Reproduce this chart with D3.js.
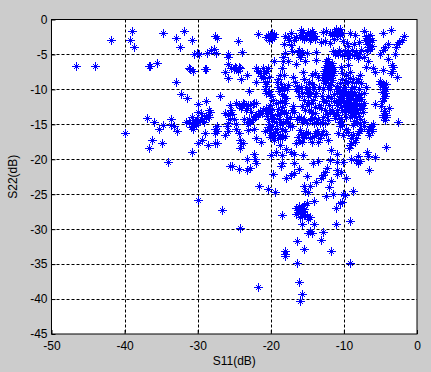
<!DOCTYPE html>
<html>
<head>
<meta charset="utf-8">
<script src="https://cdnjs.cloudflare.com/ajax/libs/d3/7.8.5/d3.min.js"></script>
<style>
html, body { margin: 0; padding: 0; background: #cccccc; overflow: hidden; }
text { font-family: "Liberation Sans", Arial, sans-serif; fill: #000; }
</style>
</head>
<body>
<div id="container"><svg></svg></div>
<script>
let width = 431;
let height = 372;

let xTicks = [-50, -40, -30, -20, -10, 0];
let yTicks = [0, -5, -10, -15, -20, -25, -30, -35, -40, -45];
let xLabel = 'S11(dB)';
let yLabel = 'S22(dB)';

// [S11, S22], left side first
let leftPoints = [
    [-46.6,-6.6],[-44.1,-6.6],[-41.9,-2.9],[-39,-1.6],[-39.3,-3],[-38.7,-4],[-36.7,-6.6],[-36.5,-6.7],[-35.6,-6.2],
    [-34.8,-1.9],[-33,-2.7],[-32.4,-3.9],[-31.9,-1.7],[-30.8,-3],[-30.5,-4.9],[-30.1,-4.8],[-29.8,-4.9],[-31.2,-6.9],[-31,-7.1],
    [-30.6,-7.4],[-29,-7.1],[-28.8,-7.1],[-33,-9],[-32.3,-10.7],[-31.5,-11.3],[-30,-12.1],[-28.8,-11.7],[-28.5,-12.9],
    [-29.9,-13.2],[-29.6,-13.4],[-29.4,-14.2],[-28.4,-14],[-28.6,-13.6],[-37,-14.1],[-36,-14.6],[-33.7,-14.3],[-34.7,-15.1],[-35.3,-15.7],
    [-33.7,-15.1],[-33.2,-15.3],[-32.9,-15.9],[-40,-16.3],[-36.2,-17.3],[-36.7,-18.4],[-34.9,-17.7],[-34.1,-20.4],[-30.8,-19],
    [-31.6,-14.7],[-31.2,-14.6],[-30.8,-14],[-30.8,-14.9],[-30.4,-14.6],[-30.6,-15.7],[-29.9,-14.7],[-30.3,-15.1],[-29.9,-17.6],
    [-29.4,-17.2],[-29,-16.3],[-28.6,-17.9],[-27.6,-17.7],[-27.6,-15.7],[-27.6,-16.3],[-28.7,-4.8],[-28.2,-4.4],[-27.8,-4.2],[-27.5,-4.8],
    [-30,-25.8],[-27.4,-2.7],[-27.6,-2.4],[-27.4,-15.3],[-27.4,-16],[-27.4,-17.7],
    [-30.7,-14.4],[-30.5,-15.3],[-30.1,-14.2],[-29.7,-14.5],[-29.2,-14.6],[-28.9,-14.1],[-28.8,-13.8],[-28.3,-13.2],[-30.9,-15.4]
];

let upperPoints = [
    [-21.8,-2.1],[-20.6,-2.5],[-20.1,-2.4],[-19.5,-2.1],[-19.8,-2.8],[-18.1,-2.4],[-17.3,-2],[-17.5,-3],[-16.8,-3],[-15.9,-1.5],
    [-15.7,-2.6],[-15.1,-2.2],[-14.7,-2],[-14.2,-2],[-13.9,-2.3],[-15.4,-2.8],[-14,-2.8],[-12.8,-1.8],[-12.4,-1.6],[-12.6,-3.1],
    [-11.9,-2],[-11.3,-1.8],[-10.8,-1.7],[-10.3,-2],[-10.9,-2.4],[-10.1,-3.1],[-9.2,-2],[-8.5,-2.2],[-7.2,-1.7],[-7.1,-3],[-6.6,-2.6],
    [-6.2,-3],[-6.8,-3.5],[-6.2,-3.8],[-4.7,-2],[-3.5,-1.5],[-1.8,-2.3],[-2,-3],[-2.4,-3.2],[-2.7,-3.5],[-2.9,-4],[-4,-3.5],[-4.4,-3.9],
    [-4.6,-4.3],[-24.5,-3.1],[-18.2,-3.5],[-17.3,-3.7],[-8.6,-3.5],[-24,-4.6],[-25.8,-4.9],[-25.8,-5.4],[-17.1,-4.5],[-18.1,-4.8],
    [-18.3,-5.3],[-16.3,-4.6],[-15.9,-5.1],[-15.1,-4.8],[-13.8,-4.7],[-11.5,-4.5],[-10.7,-4.3],[-9.9,-4.5],[-9.2,-4.9],[-8.3,-4.7],
    [-7.6,-4.4],[-6.8,-4.5],[-5.1,-5],[-3,-4.9],[-18.3,-6],[-19.5,-6],[-17.6,-6],[-16.6,-6.3],[-15.3,-6],[-13.8,-5.8],[-12.2,-5.6],
    [-9.4,-5.5],[-8.1,-5.5],[-6.7,-6],[-4,-5.7],[-25.9,-6.3],[-26.3,-7.5],[-25.9,-8.3],[-25.4,-6.9],[-24.7,-7],[-24.2,-7],[-24.5,-7.3],
    [-24.1,-8.5],[-23.2,-8],[-22,-7],[-21.8,-7.3],[-21.1,-7],[-20.4,-6.9],[-20.9,-7.7],[-22,-8.9],[-20.8,-9],[-18.5,-7],[-18.2,-8],
    [-19,-8.5],[-19.2,-9],[-16.9,-8.2],[-16.7,-9],[-15.6,-7.5],[-15.4,-8.5],[-14.4,-8],[-14,-7.7],[-14.8,-9],[-13.5,-8.2],[-12.8,-8],
    [-12.2,-6.5],[-11.7,-7],[-11.9,-7.5],[-12.2,-8.5],[-11.7,-9],[-11.5,-8],[-10.3,-7.6],[-9.7,-8],[-9.2,-7.5],[-8.7,-8.5],[-7.8,-8],
    [-9.4,-9],[-8.3,-9],[-6,-7],[-5.8,-7.5],[-4.7,-7.2],[-3.3,-6.8],[-3.4,-7.3],[-2.7,-8.2],[-5.1,-8.8],[-4.6,-9.3],[-4.2,-9.2],
    [-12,-7],[-12.4,-7.9],[-11.8,-8.3],[-12.6,-9.1],[-11.6,-6.2],[-10.4,-6.8],[-9.5,-6.5],[-7,-6.8],[-21.4,-8.1],[-20.2,-8.2]
];

let middlePoints = [
    [-20.8,-10],[-20.6,-10.5],[-23,-10.2],[-27,-10.9],[-19,-9.7],[-18.2,-9.7],[-17.8,-10],[-20,-11],[-19.7,-11.5],[-18.2,-11],[-16.4,-9.5],
    [-15.7,-10.5],[-16.3,-10.2],[-14.8,-10],[-14.2,-10],[-14.9,-11],[-15.4,-11.5],[-14,-11],[-13,-11],[-12.2,-11],[-11,-10.5],[-10.1,-10],
    [-9.4,-10.5],[-9,-10],[-8,-10],[-7.2,-10.5],[-4.6,-10],[-4.4,-10.5],[-4.4,-11],[-25.6,-12.2],[-24.7,-11.9],[-23.8,-12],[-23.1,-12.3],
    [-22,-12],[-25.4,-13],[-25.8,-13.7],[-25,-14.2],[-23.4,-13],[-22.7,-13.2],[-22.2,-14],[-21.7,-13.7],[-21,-13],[-20.6,-12.7],[-20.1,-12.3],
    [-20,-13.5],[-20.4,-14.3],[-23.1,-15],[-23.6,-14.3],[-23.3,-12.6],[-24.1,-12.6],[-22.6,-14.4],[-21.2,-13.4],[-20.5,-13.8],
    [-19.3,-12],[-19,-12.8],[-18.7,-11.8],[-18.4,-12.5],[-18.2,-13.2],[-19.1,-13.6],[-18.9,-14.2],[-17.8,-14.3],[-17.4,-13.9],
    [-16.9,-12.4],[-15.7,-12.4],[-15.3,-13],[-14.8,-13],[-14.5,-13.2],[-15.9,-14.1],[-16.4,-14.3],[-15.4,-14.3],[-14.4,-14.1],[-13.8,-14.6],
    [-13,-14.6],[-12.2,-14.4],[-14,-13.4],[-12.9,-13.9],[-13.4,-12.2],[-12.4,-11.7],[-12,-12.3],[-11.6,-12.9],[-11.9,-13.3],[-11,-12.2],
    [-11.3,-11.6],[-11,-13],[-10.8,-13.6],[-10.6,-11],[-10.3,-11.3],[-10,-11.7],[-10,-12.3],[-9.8,-12.8],[-9.6,-11],[-9.5,-11.5],
    [-9.4,-12],[-9.3,-12.5],[-9.1,-11.8],[-9,-11.2],[-9,-12.2],[-8.8,-12.8],[-8.7,-11.4],[-8.5,-12],[-8.4,-12.6],[-8.2,-11.5],[-8.2,-13],
    [-8,-12.3],[-7.9,-13.8],[-8.6,-13.4],[-7.6,-11.4],[-7.3,-11.9],[-7.4,-13.3],[-8.6,-14.5],[-9.2,-14],[-7.8,-14.9],[-7.2,-14.6],
    [-9.7,-13.9],[-10.4,-14.2],[-5.8,-12.1],[-4.9,-12.4],[-3.8,-12.7],[-4.4,-13.4],[-4.6,-13.9],[-4.2,-13.7],[-4.4,-14.4],[-2.6,-14.7],
    [-25.8,-14.8],[-26.3,-13.4],[-10.9,-9.5],[-9.9,-9.7],[-8.6,-9.6],[-12.8,-10],[-13.4,-9.7],[-11.9,-10],[-7,-9.6],[-4.8,-11.6]
];

let lowerPoints = [
    [-26.3,-16.5],[-26,-15.2],[-25.8,-16],[-24.8,-15.7],[-24.3,-16.3],[-24.2,-17.2],[-24.1,-17.7],[-23.8,-17.6],[-24.2,-18.4],[-23.1,-15.8],
    [-22.3,-15.6],[-22,-17],[-21.3,-17.5],[-20.8,-16],[-20.1,-16.8],[-19.5,-17.2],[-19.7,-16.5],[-19,-16.9],[-18.8,-18],[-18,-16.7],[-18,-16],
    [-17.4,-15.3],[-19.9,-15.3],[-19.2,-15.6],[-18.5,-15.6],[-16.5,-17.6],[-15.7,-17.5],[-16.3,-16.8],[-15.6,-16.5],[-14.9,-16.3],[-14.4,-16.8],
    [-14,-16.3],[-13.5,-16.3],[-12.8,-16],[-13.3,-17],[-13.5,-17.5],[-14.4,-17.5],[-12.2,-17.2],[-16,-15.8],[-10.8,-16.3],[-10.1,-16.5],
    [-10.6,-15.2],[-9,-17],[-8.5,-17.5],[-9,-17.7],[-8.1,-16.3],[-7.6,-15.6],[-6.5,-15.6],[-6.2,-16],[-6,-14.9],[-6.5,-16.5],
    [-22.3,-19.2],[-22.2,-19.9],[-23.3,-20],[-22,-20.6],[-25.3,-20.9],[-25.6,-21],[-24.4,-21.4],[-23.3,-21.6],[-22.9,-21.3],[-20,-19.4],
    [-18.4,-19.4],[-18.5,-20.6],[-18.6,-21],[-16.8,-20.6],[-19.7,-22.1],[-17.9,-22.7],[-17.3,-22.2],[-16.8,-22],[-16.1,-21.4],[-15.6,-19.4],
    [-17.9,-18.6],[-17.3,-19],[-16.8,-19.2],[-14.2,-20.6],[-13.6,-20.3],[-15,-22.4],[-13.8,-23.2],[-13.1,-22.7],[-12.8,-22.2],[-12.6,-21.8],
    [-12.3,-21.2],[-11.8,-23.1],[-11.9,-20.1],[-10.9,-19.2],[-10.1,-20.4],[-11,-20.4],[-10.9,-21.5],[-10.4,-21.8],[-10.9,-22.1],[-9.7,-22.7],
    [-9,-20],[-8.1,-19.6],[-8.3,-20.1],[-7.8,-20.3],[-8.1,-20.6],[-6.9,-18.9],[-6.7,-19.6],[-5.8,-19.7],[-6.5,-21.6],[-4.3,-18.3],
    [-11.7,-18.7],[-9.3,-18.4],[-9.1,-18],[-26.7,-27.2],[-24.2,-29.9],[-18.4,-28],[-21.7,-38.3],[-16.4,-31.7],[-15.4,-32.9],[-18.1,-33.1],
    [-18.1,-33.6],[-18.1,-33.9],[-16.4,-34.9],[-9.2,-34.9],[-11.8,-33.1],[-13.1,-31.6],[-12.8,-30.4],[-11.1,-29.3],[-9.1,-28.8],[-14.9,-30.6],
    [-14.4,-30.5],[-14.7,-30.2],[-15.7,-29.3],[-14.1,-29.3],[-16.5,-26.9],[-15.7,-26.9],[-16.3,-27.6],[-15.9,-27.9],[-15.6,-27.4],[-15.4,-27.1],
    [-16.5,-27.9],[-16,-28.3],[-15.1,-28.1],[-14.9,-28.6],[-14.7,-28.3],[-15.1,-26.2],[-14.1,-26],[-16.1,-37.5],[-15.8,-39.3],[-16,-40.3],
    [-12.5,-25.3],[-11.5,-25],[-10.3,-26.1],[-10.6,-26.3],[-11.1,-26.9],[-10.1,-25],[-9.8,-25.1],[-8.7,-24.5],[-12.1,-24],[-14.9,-24.7],
    [-15.3,-24.5],[-14.6,-23.8],[-15.4,-23.8],[-19.4,-24.7],[-20.4,-24.3],[-21.6,-23.8]
];

// second pass over the crowded parts of the cloud
let densePoints = [
    [-20.4,-2.2],[-20.3,-2.9],[-19.9,-2],[-19.6,-2.5],[-16,-2.2],[-15.6,-1.8],[-15.3,-2.4],[-14.9,-1.8],[-14.5,-2.6],[-14.3,-1.7],[-14.6,-3],
    [-11.6,-2.2],[-11.1,-1.4],[-11.4,-2.8],[-10.6,-2.2],[-10.5,-1.4],[-7,-2.3],[-6.9,-2.9],[-6.5,-3.2],[-6.4,-2.2],[-6.7,-3.9],[-6.4,-4.2],
    [-17.7,-2.6],[-16.6,-2.5],[-13.2,-3.2],[-11.9,-3.3],[-9.6,-3.4],[-9.4,-3.8],[-8,-3.2],[-10.8,-5],[-11.2,-4.9],[-10.2,-5.1],[-9.6,-5],
    [-8.9,-4.3],[-8.6,-5.1],[-7.9,-5],[-7.3,-5.3],[-16.1,-4.3],[-15.8,-4.7],[-16,-5.4],[-12.4,-6],[-12,-6.2],[-11.9,-6.6],[-12.6,-6.8],
    [-12.3,-7.3],[-11.4,-7.3],[-11.5,-6.8],[-12.7,-7.4],[-12.1,-7.8],[-11.6,-8.6],[-12.4,-8.4],[-12.9,-8.6],[-11.9,-9.4],[-12.2,-9.6],
    [-20.6,-7.4],[-21.5,-7.7],[-21,-8.4],[-20.5,-8.9],[-20.6,-9.5],[-20.3,-10.2],[-20.1,-10.7],[-25,-7.1],[-24.9,-6.8],[-24.4,-6.8],
    [-18.8,-8],[-18.6,-9.2],[-18.9,-10.2],[-18.5,-10.6],[-17.7,-9.4],[-16.6,-9.9],[-15.9,-9.7],[-16.1,-10.9],[-15.2,-9.7],[-15.1,-10.4],
    [-14.6,-10.6],[-14.4,-9.3],[-14.1,-9.7],[-13.8,-10.5],[-10.2,-8.5],[-10.5,-9.1],[-9.9,-8.9],[-9.1,-8.3],[-8.9,-9],[-8.1,-8.5],[-7.6,-9.1],
    [-10.9,-10],[-10.5,-10.3],[-10.2,-10.7],[-9.8,-10.2],[-9.7,-10.8],[-9.2,-11],[-8.9,-10.6],[-8.6,-10.4],[-8.4,-11],[-8,-10.7],[-7.8,-11.1],
    [-10.8,-11.5],[-10.6,-12],[-10.4,-12.5],[-10.2,-12.9],[-9.9,-13.3],[-9.5,-13],[-9.1,-13.2],[-8.9,-13.6],[-9.6,-12.3],[-9.2,-11.5],
    [-8.8,-11.9],[-8.6,-12.3],[-8.3,-12],[-8.1,-13.4],[-7.8,-12.7],[-7.6,-12.2],[-7.4,-12.7],[-7.8,-14.2],[-8.2,-14.6],[-8.4,-14],[-8.7,-15.1],
    [-11.8,-11.3],[-11.4,-10.7],[-12.8,-11.7],[-13.1,-12.7],[-12.6,-13],[-12.3,-13.5],[-11.4,-13.5],[-11.2,-14.1],[-10.7,-14.6],[-10.2,-15],
    [-14.9,-11.8],[-14.5,-12],[-14.2,-11.5],[-13.9,-12.5],[-15.1,-12.1],[-14.7,-14.4],[-14.1,-14.8],[-13.6,-14.3],[-13.3,-14.8],[-12.6,-14.8],
    [-16.2,-14],[-15.7,-14.6],[-15.1,-14.8],[-17.1,-15.2],[-17.6,-14.8],[-18.3,-14.6],[-18.7,-15],[-19.3,-14.7],[-19.6,-14.1],[-19.9,-14.5],
    [-20.2,-14.9],[-20.4,-15.4],[-20.6,-13.1],[-20.3,-12.9],[-20.1,-13],[-19.9,-12.8],[-20.2,-15.8],[-20,-16.2],[-19.4,-16.1],[-18.8,-16.5],
    [-18.4,-16.9],[-21.5,-13.1],[-21.8,-13.5],[-22,-13.8],[-22.4,-14.2],[-22.8,-14.6],[-23,-14.2],[-23.2,-14.7],[-24.3,-12.2],[-24,-12.4],
    [-23.6,-12.1],[-23.4,-12.3],[-22.9,-12.2],[-22.5,-12.1],[-22.3,-12],[-25.3,-13.5],[-25.6,-14.3],[-24.8,-14.9],[-18.5,-11.7],[-18.1,-12],
    [-17.9,-11.3],[-18.6,-13],[-18.8,-13.5],[-17.9,-13.4],[-18.5,-10.1],[-15.2,-16.1],[-15.5,-16.8],[-14.7,-17],[-14.1,-16.7],[-13.1,-16.5],
    [-13.7,-16],[-12.5,-16.4],[-15.9,-16.4],[-16.1,-17.2],[-9.4,-16.1],[-8.8,-16.5],[-8.3,-16.9],[-7.9,-15.9],[-7.3,-15.2],[-9.7,-15.6],
    [-6.3,-15.3],[-6.1,-15.6],[-6.7,-15.9],[-4.5,-13.1],[-4.3,-14],[-4.7,-13.6],[-19.3,-19],[-14.3,-14.2],[-16.8,-13.2],[-17.1,-12.9],
    [-4.6,-9.7],[-4.2,-10],[-4.8,-10.4],[-4.5,-11.3],[-3.4,-6.5],[-3.5,-7.6],[-5,-9.3],[-15.8,-27.6],[-16.2,-27.2],[-15.9,-27],[-15.5,-27.8],
    [-15.8,-28.1],[-15.3,-28],[-16.1,-26.7],[-15.5,-26.6]
];

function draw_scatter() {
    let padding = {'left': 51.5, 'right': 14, 'top': 19.5, 'bottom': 38};
    let points = leftPoints.concat(upperPoints, middlePoints, lowerPoints, densePoints);

    let svg = d3.select('#container')
        .select('svg')
        .attr('width', width)
        .attr('height', height)
        .style('display', 'block');

    let x = d3.scaleLinear().domain([-50, 0]).range([padding.left, width - padding.right]);
    let y = d3.scaleLinear().domain([0, -45]).range([padding.top, height - padding.bottom]);

    // plot area
    svg.append('rect')
        .attr('x', x(-50))
        .attr('y', y(0))
        .attr('width', x(0) - x(-50))
        .attr('height', y(-45) - y(0))
        .attr('fill', '#fff');

    // grid
    svg.append('g').selectAll('line')
        .data(xTicks.slice(1, -1))
        .enter()
        .append('line')
        .attr('x1', d => Math.round(x(d)) + 0.5)
        .attr('x2', d => Math.round(x(d)) + 0.5)
        .attr('y1', y(0))
        .attr('y2', y(-45))
        .attr('stroke', '#000')
        .attr('stroke-dasharray', '3,2');
    svg.append('g').selectAll('line')
        .data(yTicks.slice(1, -1))
        .enter()
        .append('line')
        .attr('x1', x(-50))
        .attr('x2', x(0))
        .attr('y1', d => Math.round(y(d)) + 0.5)
        .attr('y2', d => Math.round(y(d)) + 0.5)
        .attr('stroke', '#000')
        .attr('stroke-dasharray', '3,2');

    // star markers, arms on whole pixels with a small solid middle
    svg.append('g').selectAll('path')
        .data(points)
        .enter()
        .append('path')
        .attr('transform', d => `translate(${Math.round(x(d[0]))},${Math.round(y(d[1]))})`)
        .attr('d', 'M-4,0H5V1H-4Z M0,-4H1V5H0Z M-1,-1H2V2H-1Z M-2,-2H-1V-1H-2Z M2,-2H3V-1H2Z M-2,2H-1V3H-2Z M2,2H3V3H2Z')
        .attr('fill', '#0000ff')
        .attr('shape-rendering', 'crispEdges');

    // axes
    let xAxis = d3.axisBottom(x).tickValues(xTicks).tickSize(-4).tickPadding(7).tickFormat(d3.format('d'));
    let yAxis = d3.axisLeft(y).tickValues(yTicks).tickSize(-4).tickPadding(4).tickFormat(d3.format('d'));

    let gx = svg.append('g').attr('transform', `translate(0,${y(-45)})`).call(xAxis);
    let gy = svg.append('g').attr('transform', `translate(${x(-50)},0)`).call(yAxis);
    gx.selectAll('text').style('font-size', '12px').style('font-family', '"Liberation Sans"').text(d => String(d));
    gy.selectAll('text').style('font-size', '12px').style('font-family', '"Liberation Sans"').text(d => String(d));
    gx.select('.domain').remove();
    gy.select('.domain').remove();

    // box
    svg.append('rect')
        .attr('x', x(-50))
        .attr('y', y(0))
        .attr('width', x(0) - x(-50))
        .attr('height', y(-45) - y(0))
        .attr('fill', 'none')
        .attr('stroke', '#000');

    svg.append('text')
        .attr('x', (x(-50) + x(0)) / 2)
        .attr('y', 365)
        .attr('text-anchor', 'middle')
        .style('font-size', '12px')
        .text(xLabel);
    svg.append('text')
        .attr('transform', `translate(17,${(y(0) + y(-45)) / 2}) rotate(-90)`)
        .attr('text-anchor', 'middle')
        .style('font-size', '12px')
        .text(yLabel);
}

draw_scatter();
</script>
</body>
</html>
